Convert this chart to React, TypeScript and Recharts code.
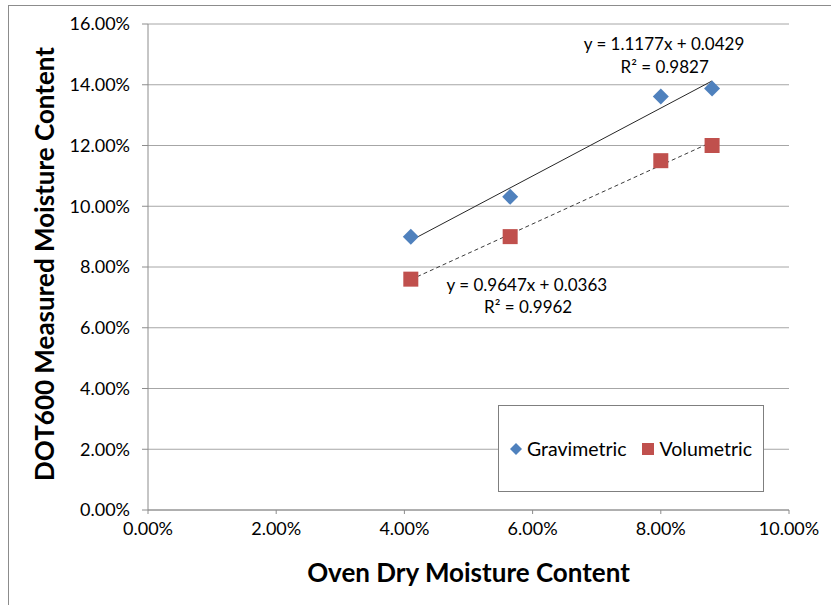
import {
  ScatterChart,
  Scatter,
  XAxis,
  YAxis,
  CartesianGrid,
  ReferenceLine,
  ReferenceDot,
} from 'recharts';

// Oven-dry vs DOT600 moisture readings (fractions, shown as %)
const ovenDry = [0.041, 0.0565, 0.08, 0.088];
const gravimetric = [0.09, 0.1031, 0.1361, 0.1388];
const volumetric = [0.076, 0.09, 0.115, 0.12];

// Linear fits reported for each series
const gravFit = { slope: 1.1177, intercept: 0.0429, r2: 0.9827 };
const volFit = { slope: 0.9647, intercept: 0.0363, r2: 0.9962 };

const xTicks = [0, 0.02, 0.04, 0.06, 0.08, 0.1];
const yTicks = [0, 0.02, 0.04, 0.06, 0.08, 0.1, 0.12, 0.14, 0.16];

const BLUE = '#4f81bd';
const RED = '#c0504d';
const FONT = 'Lato, "Liberation Sans", sans-serif';

const gravData = ovenDry.map((x, i) => ({ x, y: gravimetric[i] }));
const volData = ovenDry.map((x, i) => ({ x, y: volumetric[i] }));

const xMin = Math.min(...ovenDry);
const xMax = Math.max(...ovenDry);
const fitSegment = (fit: { slope: number; intercept: number }) => [
  { x: xMin, y: fit.slope * xMin + fit.intercept },
  { x: xMax, y: fit.slope * xMax + fit.intercept },
];

const pct = (v: number) => `${(v * 100).toFixed(2)}%`;
const fmtEq = (fit: { slope: number; intercept: number }) =>
  `y = ${fit.slope.toFixed(4)}x + ${fit.intercept.toFixed(4)}`;

const DIAMOND_R = 8;
const SQUARE_R = 7.5;

function Diamond(props: any) {
  const { cx, cy } = props;
  if (cx == null || cy == null) return null;
  const s = DIAMOND_R;
  return (
    <polygon
      points={`${cx},${cy - s} ${cx + s},${cy} ${cx},${cy + s} ${cx - s},${cy}`}
      fill={BLUE}
    />
  );
}

function Square(props: any) {
  const { cx, cy } = props;
  if (cx == null || cy == null) return null;
  const s = SQUARE_R;
  return <rect x={cx - s} y={cy - s} width={s * 2} height={s * 2} fill={RED} />;
}

function LegendBox() {
  return (
    <div
      style={{
        position: 'absolute',
        left: 498,
        top: 405,
        width: 264,
        height: 85,
        border: '1px solid #7f7f7f',
        background: '#fff',
        display: 'flex',
        alignItems: 'center',
        justifyContent: 'center',
        gap: 16,
        fontFamily: FONT,
        fontSize: 19.5,
        color: '#000',
      }}
    >
      <span style={{ display: 'flex', alignItems: 'center', gap: 5 }}>
        <svg width={12} height={12}>
          <polygon points="6,0 12,6 6,12 0,6" fill={BLUE} />
        </svg>
        Gravimetric
      </span>
      <span style={{ display: 'flex', alignItems: 'center', gap: 5 }}>
        <svg width={12} height={12}>
          <rect width={12} height={12} fill={RED} />
        </svg>
        Volumetric
      </span>
    </div>
  );
}

const eqLabel = (value: string) => ({
  value,
  position: 'center' as const,
  fill: '#000',
  fontSize: 17,
  fontFamily: FONT,
});

export default function App() {
  return (
    <div style={{ position: 'relative', width: 831, height: 605, background: '#fff', overflow: 'hidden' }}>
      <style>{'body{margin:0}'}</style>
      <div
        style={{
          position: 'absolute',
          left: 8,
          top: 5,
          width: 900,
          height: 700,
          borderLeft: '1px solid #8c8c8c',
          borderTop: '1px solid #8c8c8c',
        }}
      />
      <ScatterChart
        width={831}
        height={605}
        margin={{ top: 24, right: 42, left: 0, bottom: 0 }}
        style={{ position: 'absolute', left: 0, top: 0 }}
      >
        <CartesianGrid vertical={false} stroke="#a6a6a6" strokeWidth={1} />
        <XAxis
          type="number"
          dataKey="x"
          domain={[0, 0.1]}
          ticks={xTicks}
          tickFormatter={pct}
          height={95}
          stroke="#8c8c8c"
          tickSize={4}
          tickMargin={8}
          tick={{ fill: '#000', fontSize: 18, fontFamily: FONT }}
          label={{
            value: 'Oven Dry Moisture Content',
            position: 'center',
            dy: 15,
            fill: '#000',
            fontSize: 26,
            fontWeight: 'bold',
            fontFamily: FONT,
          }}
        />
        <YAxis
          type="number"
          dataKey="y"
          domain={[0, 0.16]}
          ticks={yTicks}
          tickFormatter={pct}
          width={148}
          stroke="#8c8c8c"
          tickSize={6}
          tickMargin={12}
          tick={{ fill: '#000', fontSize: 18, fontFamily: FONT }}
          label={{
            value: 'DOT600 Measured Moisture Content',
            angle: -90,
            position: 'center',
            dx: -29,
            dy: -3,
            fill: '#000',
            fontSize: 26,
            fontWeight: 'bold',
            fontFamily: FONT,
          }}
        />
        <ReferenceLine segment={fitSegment(gravFit)} stroke="#262626" strokeWidth={1} />
        <ReferenceLine
          segment={fitSegment(volFit)}
          stroke="#3a3a3a"
          strokeWidth={1}
          strokeDasharray="4 3"
        />
        <Scatter name="Gravimetric" data={gravData} shape={Diamond} isAnimationActive={false} />
        <Scatter name="Volumetric" data={volData} shape={Square} isAnimationActive={false} />
        <ReferenceDot x={0.0805} y={0.1534} r={0} stroke="none" fill="none" label={eqLabel(fmtEq(gravFit))} />
        <ReferenceDot x={0.0806} y={0.1458} r={0} stroke="none" fill="none" label={eqLabel(`R² = ${gravFit.r2.toFixed(4)}`)} />
        <ReferenceDot x={0.0591} y={0.0741} r={0} stroke="none" fill="none" label={eqLabel(fmtEq(volFit))} />
        <ReferenceDot x={0.0593} y={0.0668} r={0} stroke="none" fill="none" label={eqLabel(`R² = ${volFit.r2.toFixed(4)}`)} />
      </ScatterChart>
      <LegendBox />
    </div>
  );
}
